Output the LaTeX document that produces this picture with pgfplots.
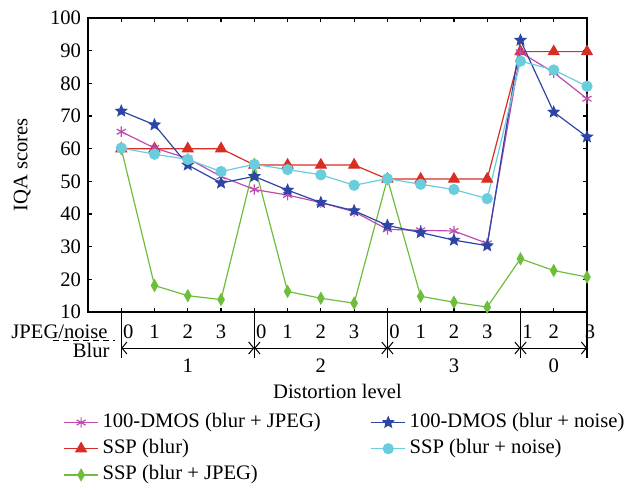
\documentclass[border=0pt]{standalone}
\usepackage{fontspec}
\setmainfont{Liberation Serif}
\usepackage{pgfplots}
\pgfplotsset{compat=1.18}
\usetikzlibrary{arrows.meta, plotmarks}

\definecolor{cmag}{RGB}{190,75,175}
\definecolor{cblue}{RGB}{45,70,165}
\definecolor{cred}{RGB}{215,45,35}
\definecolor{ccyan}{RGB}{105,205,220}
\definecolor{cgreen}{RGB}{110,190,60}

% filled five-point star
\pgfdeclareplotmark{fstar}{%
  \pgfpathmoveto{\pgfpointpolar{90}{\pgfplotmarksize}}%
  \pgfpathlineto{\pgfpointpolar{126}{0.45\pgfplotmarksize}}%
  \pgfpathlineto{\pgfpointpolar{162}{\pgfplotmarksize}}%
  \pgfpathlineto{\pgfpointpolar{198}{0.45\pgfplotmarksize}}%
  \pgfpathlineto{\pgfpointpolar{234}{\pgfplotmarksize}}%
  \pgfpathlineto{\pgfpointpolar{270}{0.45\pgfplotmarksize}}%
  \pgfpathlineto{\pgfpointpolar{306}{\pgfplotmarksize}}%
  \pgfpathlineto{\pgfpointpolar{342}{0.45\pgfplotmarksize}}%
  \pgfpathlineto{\pgfpointpolar{18}{\pgfplotmarksize}}%
  \pgfpathlineto{\pgfpointpolar{54}{0.45\pgfplotmarksize}}%
  \pgfpathclose
  \pgfusepathqfillstroke}

\begin{document}
\begin{tikzpicture}[font=\fontsize{10.3}{12.4}\selectfont]
\path[use as bounding box] (-44pt,-89.5pt) rectangle (273.5pt,156pt);
\begin{axis}[
    at={(0,0)}, anchor=south west,
    width=249.5pt, height=147pt, scale only axis,
    xmin=-1, xmax=14, ymin=10, ymax=100,
    xtick={0,...,14},
    xticklabels={\hspace*{7pt}0,1,2,3,\hspace*{7pt}0,1,2,3,\hspace*{7pt}0,1,2,3,\hspace*{7pt}1,2,\hspace*{3pt}3},
    ytick={10,20,...,100},
    xticklabel style={anchor=base, yshift=-13pt},
    tick align=inside, major tick length=2.2pt,
    axis line style={line width=0.6pt},
    every tick/.style={black, line width=0.6pt},
    clip=false,
    /pgf/number format/assume math mode=true,
    ylabel={IQA scores},
    ylabel style={at={(axis description cs:-0.132,0.5)}, anchor=center},
    xlabel={Distortion level},
    xlabel style={at={(axis description cs:0.5,0)}, anchor=base, yshift=-43pt},
    legend columns=2,
    legend cell align=left,
    legend style={draw=none, fill=none, inner sep=0pt,
      at={(axis description cs:-0.05,-0.33)}, anchor=north west,
      nodes={inner sep=1.9pt, text height=7pt, text depth=2.3pt},
      /tikz/every even column/.append style={column sep=23pt}},
  ]
  % plots drawn in visual stacking order; legend added separately
  \addplot[cred, line width=0.6pt, mark=triangle*, mark size=3pt, forget plot] coordinates {
    (0,60)(1,60)(2,60)(3,60)(4,55)(5,55)(6,55)(7,55)
    (8,50.7)(9,50.7)(10,50.7)(11,50.7)(12,89.7)(13,89.7)(14,89.7)};
  \addplot[cgreen, line width=0.6pt, mark=diamond*, mark size=2.8pt, mark options={xscale=0.75}, forget plot] coordinates {
    (0,60)(1,18.1)(2,15.0)(3,13.8)(4,55.2)(5,16.3)(6,14.2)(7,12.7)
    (8,50.8)(9,14.8)(10,13.0)(11,11.5)(12,26.3)(13,22.7)(14,20.7)};
  \addplot[cmag, line width=0.6pt, mark=asterisk, mark size=2.6pt, forget plot] coordinates {
    (0,65.2)(1,60.2)(2,57.0)(3,51.5)(4,47.5)(5,45.8)(6,43.5)(7,40.7)
    (8,35.3)(9,35.0)(10,34.8)(11,31.0)(12,89.5)(13,83.3)(14,75.3)};
  \addplot[cblue, line width=0.6pt, mark=fstar, mark size=2.7pt, forget plot] coordinates {
    (0,71.5)(1,67.3)(2,55.0)(3,49.5)(4,51.5)(5,47.3)(6,43.5)(7,41.0)
    (8,36.5)(9,34.3)(10,32.0)(11,30.3)(12,93.2)(13,71.2)(14,63.6)};
  \addplot[ccyan, line width=0.6pt, mark=*, mark size=2.5pt, forget plot] coordinates {
    (0,60.2)(1,58.3)(2,56.7)(3,53.0)(4,55.2)(5,53.6)(6,52.0)(7,48.8)
    (8,50.8)(9,49.1)(10,47.5)(11,44.7)(12,86.8)(13,84.1)(14,79.1)};

  \addlegendimage{cmag, line width=0.6pt, mark=asterisk, mark size=2.6pt}
  \addlegendentry{100-DMOS (blur + JPEG)}
  \addlegendimage{cblue, line width=0.6pt, mark=fstar, mark size=2.7pt}
  \addlegendentry{100-DMOS (blur + noise)}
  \addlegendimage{cred, line width=0.6pt, mark=triangle*, mark size=3pt}
  \addlegendentry{SSP (blur)}
  \addlegendimage{ccyan, line width=0.6pt, mark=*, mark size=2.5pt}
  \addlegendentry{SSP (blur + noise)}
  \addlegendimage{cgreen, line width=0.6pt, mark=diamond*, mark size=2.8pt, mark options={xscale=0.75}}
  \addlegendentry{SSP (blur + JPEG)}

  % group separators below the axis
  \pgfplotsinvokeforeach{0,4,8,12,14}{
    \draw[line width=0.6pt] (axis cs:#1,10) -- ([yshift=-23pt]axis cs:#1,10);
  }
  \draw[line width=0.5pt, {Straight Barb[length=2.5pt,width=6pt]}-{Straight Barb[length=2.5pt,width=6pt]}]
    ([yshift=-18pt]axis cs:0,10) -- ([yshift=-18pt]axis cs:4,10);
  \draw[line width=0.5pt, {Straight Barb[length=2.5pt,width=6pt]}-{Straight Barb[length=2.5pt,width=6pt]}]
    ([yshift=-18pt]axis cs:4,10) -- ([yshift=-18pt]axis cs:8,10);
  \draw[line width=0.5pt, {Straight Barb[length=2.5pt,width=6pt]}-{Straight Barb[length=2.5pt,width=6pt]}]
    ([yshift=-18pt]axis cs:8,10) -- ([yshift=-18pt]axis cs:12,10);
  \draw[line width=0.5pt, {Straight Barb[length=2.5pt,width=6pt]}-{Straight Barb[length=2.5pt,width=6pt]}]
    ([yshift=-18pt]axis cs:12,10) -- ([yshift=-18pt]axis cs:14,10);
  \node[anchor=base] at ([yshift=-30pt]axis cs:2,10) {1};
  \node[anchor=base] at ([yshift=-30pt]axis cs:6,10) {2};
  \node[anchor=base] at ([yshift=-30pt]axis cs:10,10) {3};
  \node[anchor=base] at ([yshift=-30pt]axis cs:13,10) {0};
  \node[anchor=base east, inner sep=0pt] at ([xshift=10pt,yshift=-13pt]axis cs:-1,10) {JPEG/noise};
  \node[anchor=base east, inner sep=0pt] at ([xshift=11pt,yshift=-22.5pt]axis cs:-1,10) {Blur};
\end{axis}
% dashed separator between the two label rows (axis box starts at the origin)
\draw[line width=0.5pt, dash pattern=on 3pt off 2pt] (-17.5pt,-14.5pt) -- (13.5pt,-14.5pt);
\end{tikzpicture}
\end{document}
